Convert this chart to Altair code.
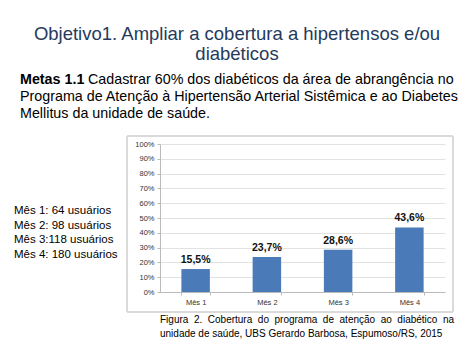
import altair as alt
import pandas as pd

months = ["Mês 1", "Mês 2", "Mês 3", "Mês 4"]
coverage = [15.5, 23.7, 28.6, 43.6]
labels = ["15,5%", "23,7%", "28,6%", "43,6%"]
y_ticks = [0, 10, 20, 30, 40, 50, 60, 70, 80, 90, 100]

title_lines = ["Objetivo1. Ampliar a cobertura a hipertensos e/ou", "diabéticos"]
metas_bold = "Metas 1.1"
metas_lines = [
    "Cadastrar 60% dos diabéticos da área de abrangência no",
    "Programa de Atenção à Hipertensão Arterial Sistêmica e ao Diabetes",
    "Mellitus da unidade de saúde.",
]
users_lines = ["Mês 1: 64 usuários", "Mês 2: 98 usuários", "Mês 3:118 usuários", "Mês 4: 180 usuários"]
caption_words = ["Figura", "2.", "Cobertura", "do", "programa", "de", "atenção", "ao", "diabético", "na"]
caption_line2 = "unidade de saúde, UBS Gerardo Barbosa, Espumoso/RS, 2015"

FONT = "Liberation Sans"
W, H = 285, 148
OX, OY = 160, 144  # plot origin in page pixels

df = pd.DataFrame({"month": months, "value": coverage, "label": labels})

x_axis = alt.Axis(labelAngle=0, labelFont=FONT, labelFontSize=7.5, labelColor="#333333",
                  domainColor="#bbbbbb", tickColor="#bbbbbb", tickSize=3, labelPadding=3,
                  ticks=True, tickBand="extent")
y_axis = alt.Axis(values=y_ticks, labelExpr="datum.value + '%'", labelFont=FONT,
                  labelFontSize=7.5, labelColor="#333333", domainColor="#bbbbbb",
                  tickColor="#bbbbbb", tickSize=3, gridColor="#e2e2e2", labelPadding=3,
                  labelOverlap=False, grid=True)
xs = alt.X("month:N", sort=months, title=None,
           scale=alt.Scale(paddingInner=0.6, paddingOuter=0.3), axis=x_axis)
ys = alt.Y("value:Q", title=None, scale=alt.Scale(domain=[0, 100], nice=False), axis=y_axis)

base = alt.Chart(df)

frame = base.mark_rect(fill=None, fillOpacity=0, stroke="#d8d8d8", strokeWidth=1).encode(
    x=alt.value(127 - OX), x2=alt.value(453 - OX),
    y=alt.value(136 - OY), y2=alt.value(312 - OY),
)

bars = base.mark_bar(color="#4a7ab8").encode(x=xs, y=ys)
vals = base.mark_text(dy=-4, fontWeight="bold", fontSize=10.5, font=FONT, color="#111111",
                      baseline="bottom").encode(x=xs, y=ys, text="label:N")

def text_layer(lines, x, y0, step, size, color, align="left", weight="normal"):
    layers = []
    for i, t in enumerate(lines):
        layers.append(
            alt.Chart(pd.DataFrame({"t": [t]})).mark_text(
                align=align, baseline="alphabetic", font=FONT, fontSize=size, color=color,
                fontWeight=weight,
            ).encode(x=alt.value(x - OX), y=alt.value(y0 + i * step - OY), text="t:N")
        )
    return layers

nb = "\u00a0"
caption_line1 = (" " + nb).join(caption_words)

layers = [frame, bars, vals]
layers += text_layer(title_lines, 237, 40, 20, 18.5, "#253a5c", align="center")
layers += text_layer([metas_bold], 20, 84, 17, 14.3, "#000000", weight="bold")
layers += text_layer([metas_lines[0]], 88, 84, 17, 14.3, "#000000")
layers += text_layer(metas_lines[1:], 20, 101, 17, 14.3, "#000000")
layers += text_layer(users_lines, 14, 214, 14.5, 11.5, "#000000")
layers += text_layer([caption_line1, caption_line2], 160, 323, 14, 10, "#000000")

chart = alt.layer(*layers).properties(
    width=W, height=H,
    autosize=alt.AutoSizeParams(type="none"),
    padding={"left": OX, "top": OY, "right": 474 - OX - W, "bottom": 355 - OY - H},
    background="white",
).configure_view(stroke=None)

chart.save("out.html", embed_options={"renderer": "svg", "actions": False})
